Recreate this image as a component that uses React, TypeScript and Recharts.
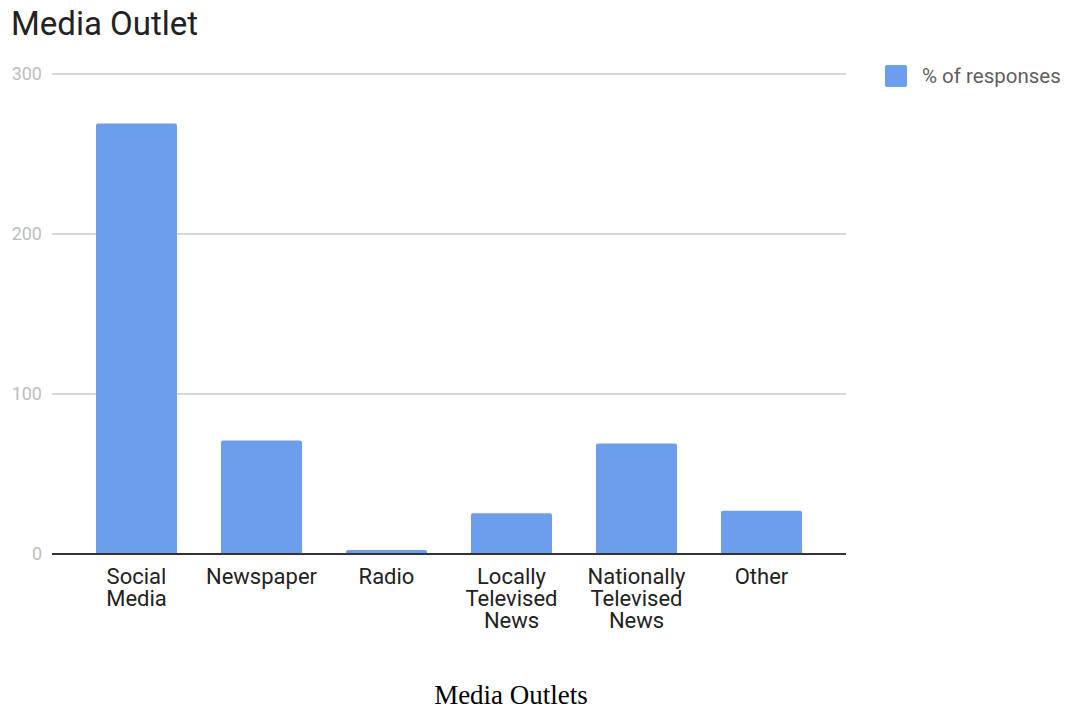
import { BarChart, Bar, XAxis, YAxis, CartesianGrid, Label } from 'recharts'

const categories = ['Social Media', 'Newspaper', 'Radio', 'Locally Televised News', 'Nationally Televised News', 'Other']
const responses = [269, 71, 2.5, 25.5, 69, 27]
const yTicks = [0, 100, 200, 300]

const data = categories.map((name, i) => ({ name, value: responses[i] }))

const BLUE = '#6d9eeb'
const FONT = 'Roboto, "Noto Sans", sans-serif'

function CategoryTick({ x, y, payload }: { x?: number; y?: number; payload?: { value: string } }) {
  const words = String(payload?.value ?? '').split(' ')
  return (
    <text x={x} y={y} textAnchor="middle" fill="#222" fontSize={22} fontFamily={FONT}>
      {words.map((w, i) => (
        <tspan key={i} x={x} dy={i === 0 ? 20 : 22}>{w}</tspan>
      ))}
    </text>
  )
}

export default function App() {
  return (
    <div style={{ position: 'absolute', left: 0, top: 0, width: 1065, height: 710, background: '#fff' }}>
      <div style={{ position: 'absolute', left: 11, top: 4, fontFamily: FONT, fontSize: 33, color: '#222', lineHeight: 1.2 }}>
        Media Outlet
      </div>
      <div style={{ position: 'absolute', left: 885, top: 64, display: 'flex', alignItems: 'center', fontFamily: FONT }}>
        <span style={{ width: 22, height: 22, background: BLUE, borderRadius: 2, display: 'inline-block' }} />
        <span style={{ marginLeft: 15, fontSize: 20.5, color: '#5f5f5f' }}>% of responses</span>
      </div>
      <BarChart
        width={1065}
        height={710}
        data={data}
        margin={{ top: 74, right: 219, bottom: 56, left: 0 }}
      >
        <CartesianGrid vertical={false} stroke="#cccccc" strokeWidth={1.5} />
        <YAxis
          width={52}
          domain={[0, 300]}
          ticks={yTicks}
          axisLine={false}
          tickLine={false}
          tickSize={0}
          tickMargin={10}
          tick={{ fill: '#bdbdbd', fontSize: 18, fontFamily: FONT }}
        />
        <XAxis
          dataKey="name"
          height={100}
          padding={{ left: 22, right: 22 }}
          axisLine={{ stroke: '#333', strokeWidth: 2 }}
          tickLine={false}
          tickSize={0}
          tickMargin={10}
          interval={0}
          tick={<CategoryTick />}
        >
          <Label
            content={() => (
              <text x={511} y={704} textAnchor="middle" fill="#000" fontSize={27} fontFamily='"Liberation Serif", "Times New Roman", serif'>
                Media Outlets
              </text>
            )}
          />
        </XAxis>
        <Bar dataKey="value" fill={BLUE} barSize={81} radius={[2, 2, 0, 0]} isAnimationActive={false} />
      </BarChart>
    </div>
  )
}
